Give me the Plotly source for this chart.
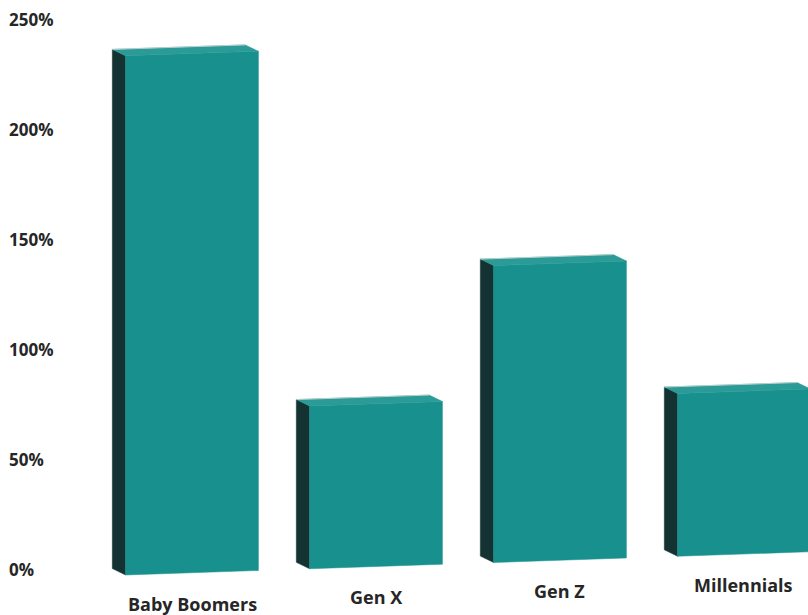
import plotly.graph_objects as go

# Share of respondents by generation (percent)
categories = ["Baby Boomers", "Gen X", "Gen Z", "Millennials"]
values = [236, 74, 135, 74]
tick_values = [0, 50, 100, 150, 200, 250]
tick_labels = ["0%", "50%", "100%", "150%", "200%", "250%"]

# Look of the pseudo-3D boxes (in axis units)
HALF_W = 0.361      # half width of a front face, category units
DEPTH_X = -0.072    # side face depth towards the left
DEPTH_Y = 2.9       # side face depth upwards (percent units)
TILT = 2.84         # slope of the floor, percent per category unit
FLOOR0 = -1.24      # floor level at category 0

FRONT = "#18918e"
SIDE = "#143232"
TOP = "#2b9b97"
TEXT = "#262626"
FONT = "Open Sans"


def floor(x):
    return FLOOR0 + TILT * x


side_x, side_y, front_x, front_y, top_x, top_y = [], [], [], [], [], []
for i, v in enumerate(values):
    xl, xr = i - HALF_W, i + HALF_W
    bl, br = floor(xl), floor(xr)
    tl, tr = bl + v, br + v
    # left side face
    side_x += [xl, xl + DEPTH_X, xl + DEPTH_X, xl, xl, None]
    side_y += [bl, bl + DEPTH_Y, tl + DEPTH_Y, tl, bl, None]
    # front face
    front_x += [xl, xr, xr, xl, xl, None]
    front_y += [bl, br, tr, tl, bl, None]
    # top face
    top_x += [xl, xl + DEPTH_X, xr + DEPTH_X, xr, xl, None]
    top_y += [tl, tl + DEPTH_Y, tr + DEPTH_Y, tr, tl, None]

fig = go.Figure()
for xs, ys, col in [(side_x, side_y, SIDE), (front_x, front_y, FRONT), (top_x, top_y, TOP)]:
    fig.add_trace(go.Scatter(
        x=xs, y=ys, mode="lines", fill="toself", fillcolor=col,
        line=dict(width=0.5, color=col), hoverinfo="skip", showlegend=False,
    ))

# subtle light rim along the back edge of each top face
rim_x, rim_y = [], []
for i, v in enumerate(values):
    xl, xr = i - HALF_W, i + HALF_W
    rim_x += [xl + DEPTH_X, xr + DEPTH_X, None]
    rim_y += [floor(xl) + v + DEPTH_Y, floor(xr) + v + DEPTH_Y, None]
fig.add_trace(go.Scatter(x=rim_x, y=rim_y, mode="lines",
                         line=dict(width=1, color="#b9cfcd"),
                         hoverinfo="skip", showlegend=False))

# category labels follow the tilted floor
for i, name in enumerate(categories):
    fig.add_annotation(
        x=i, y=floor(i), yshift=-31, text=name, showarrow=False,
        xanchor="center", yanchor="middle",
        font=dict(family=FONT, size=18, color=TEXT, weight=700),
    )

fig.update_layout(
    width=808, height=615,
    margin=dict(l=0, r=0, t=0, b=0),
    paper_bgcolor="white", plot_bgcolor="white",
    xaxis=dict(range=[-1.0435, 3.348], visible=False, fixedrange=True),
    yaxis=dict(
        range=[-20.45, 259.09], tickvals=tick_values, ticktext=tick_labels,
        ticklabelposition="inside", ticklabelstandoff=6,
        showgrid=False, zeroline=False, showline=False, ticks="",
        tickfont=dict(family=FONT, size=17, color=TEXT, weight=700),
        fixedrange=True,
    ),
)

fig.write_html("out.html")
